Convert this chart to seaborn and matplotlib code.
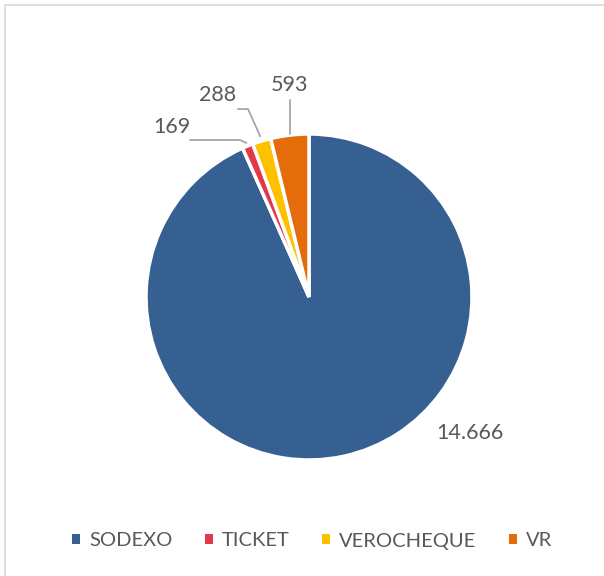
import numpy as np
import matplotlib.pyplot as plt
from matplotlib.patches import Patch, Rectangle
import seaborn as sns

# data
categories = ["SODEXO", "TICKET", "VEROCHEQUE", "VR"]
values = [14666, 169, 288, 593]
value_labels = ["14.666", "169", "288", "593"]
colors = ["#376092", "#E0394A", "#FFC000", "#E46C0A"]

sns.set_theme(style="white")
plt.rcParams["font.family"] = ["Lato", "DejaVu Sans"]
text_color = "#595959"
line_color = "#A6A6A6"
label_size = 15.5

fig = plt.figure(figsize=(6.04, 5.76), dpi=100)
fig.patches.append(Rectangle((5 / 604, -0.1), 1.2, 1 - 5 / 576 + 0.1,
                             transform=fig.transFigure, fill=False,
                             edgecolor="#D9D9D9", linewidth=1.2))

# pie centre at (309, 297) px, radius 163 px
ax = fig.add_axes([146 / 604, 1 - 460 / 576, 326 / 604, 326 / 576])
wedges, _ = ax.pie(values, colors=colors, startangle=90, counterclock=False,
                   radius=1, wedgeprops=dict(edgecolor="white", linewidth=2.5))
ax.set_xlim(-1, 1)
ax.set_ylim(-1, 1)
ax.axis("off")

# mid angle of each wedge
mids = [np.deg2rad((w.theta1 + w.theta2) / 2) for w in wedges]

def on_rim(a, r=1.02):
    return r * np.cos(a), r * np.sin(a)

# SODEXO label (placed lower right)
ax.text(0.988, -0.834, value_labels[0], ha="center", va="center",
        fontsize=label_size, color=text_color, clip_on=False)

# TICKET label with elbow leader
x0, y0 = on_rim(mids[1])
ax.plot([x0, -0.423, -0.73], [y0, 0.963, 0.963], color=line_color, lw=1.3, clip_on=False)
ax.text(-0.84, 1.043, value_labels[1], ha="center", va="center",
        fontsize=label_size, color=text_color, clip_on=False)

# VEROCHEQUE label with elbow leader
x0, y0 = on_rim(mids[2], 1.03)
ax.plot([x0, -0.374, -0.436], [y0, 1.153, 1.153], color=line_color, lw=1.3, clip_on=False)
ax.text(-0.558, 1.239, value_labels[2], ha="center", va="center",
        fontsize=label_size, color=text_color, clip_on=False)

# VR label with straight leader
x0, y0 = on_rim(mids[3], 1.01)
ax.plot([x0, x0], [y0, 1.209], color=line_color, lw=1.3, clip_on=False)
ax.text(x0, 1.301, value_labels[3], ha="center", va="center",
        fontsize=label_size, color=text_color, clip_on=False)

handles = [Patch(facecolor=c, edgecolor="none") for c in colors]
fig.legend(handles, categories, loc="center", bbox_to_anchor=(312 / 604, 1 - 541 / 576),
           ncol=4, frameon=False, fontsize=14.5, labelcolor=text_color,
           handlelength=0.4, handleheight=0.4, handletextpad=0.45,
           columnspacing=1.6)

fig.savefig("out.png", dpi=100, facecolor="white")
